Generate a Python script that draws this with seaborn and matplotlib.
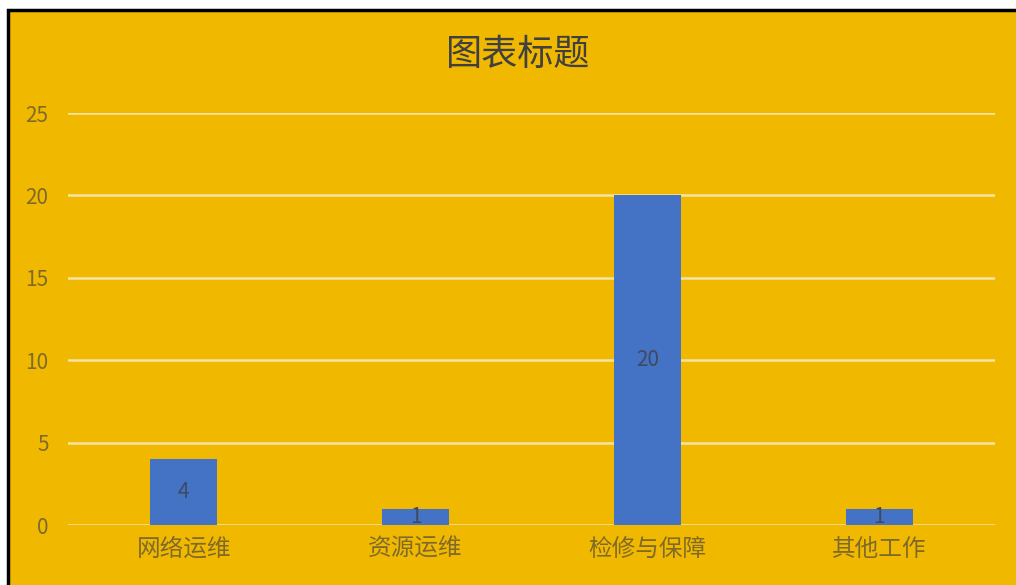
import matplotlib
matplotlib.use("Agg")
import matplotlib.pyplot as plt
import seaborn as sns
import pandas as pd
from matplotlib.patches import Rectangle

categories = ["网络运维", "资源运维", "检修与保障", "其他工作"]
values = [4, 1, 20, 1]
yticks = [0, 5, 10, 15, 20, 25]
title = "图表标题"

sns.set_theme(style="white")
plt.rcParams['font.family'] = ['Noto Sans CJK SC', 'DejaVu Sans']

BG = "#F0B900"
BAR = "#4472C4"
TXT = "#806A2A"
GRID = "#F6E3A6"

W, H = 1016, 585
fig = plt.figure(figsize=(W / 100, H / 100), dpi=100, facecolor="white")
fig.patches.append(Rectangle((8 / W, -0.05), 1 - 8 / W + 0.05, 1 - 10 / H + 0.05, transform=fig.transFigure,
                             facecolor=BG, edgecolor="black", linewidth=2.5, zorder=-10))

ax = fig.add_axes([68 / W, (H - 525) / H, (995 - 68) / W, (525 - 113) / H])
ax.set_facecolor("none")
ax.set_zorder(1)

df = pd.DataFrame({"cat": categories, "val": values})
sns.barplot(data=df, x="cat", y="val", color=BAR, saturation=1, width=0.29, ax=ax,
            zorder=3, linewidth=0, edgecolor="none")
for c in ax.containers:
    ax.bar_label(c, label_type="center", fontsize=15, color="#3F4A60", fontweight="light")

ax.set_ylim(0, 25)
ax.set_yticks(yticks)
ax.set_xlim(-0.5, 3.5)
ax.yaxis.grid(True, color=GRID, linewidth=1.8, zorder=0)
ax.set_axisbelow(True)
for s in ax.spines.values():
    s.set_visible(False)
ax.tick_params(axis="y", length=0, pad=14, labelsize=15, labelcolor=TXT)
ax.tick_params(axis="x", length=0, pad=9, labelsize=17, labelcolor=TXT)
for lab in ax.get_xticklabels() + ax.get_yticklabels():
    lab.set_fontweight("light")
ax.set_xlabel("")
ax.set_ylabel("")

fig.text(518 / W, 1 - 55 / H, title, ha="center", va="center", fontsize=26,
         fontweight="medium", color="#404040")

fig.savefig("out.png", dpi=100, facecolor="white")
